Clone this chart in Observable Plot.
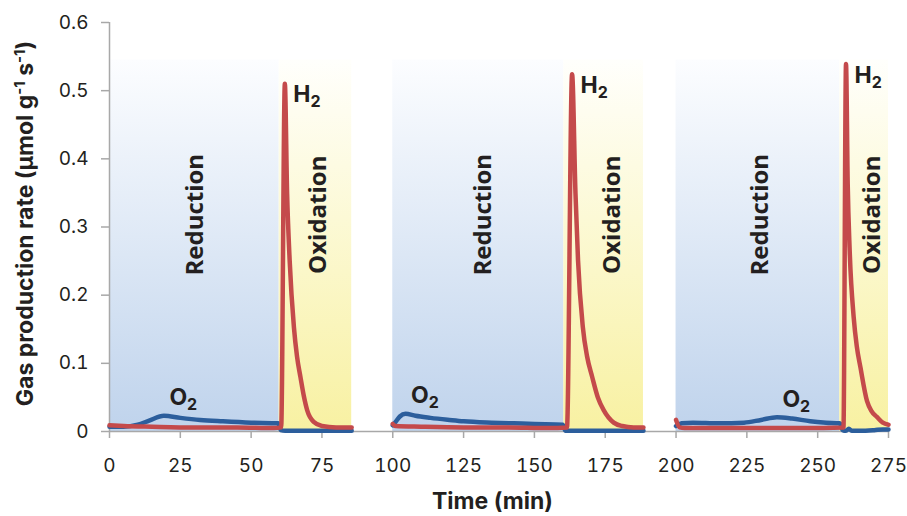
<!DOCTYPE html>
<html>
<head>
<meta charset="utf-8">
<script src="https://cdn.jsdelivr.net/npm/d3@7"></script>
<script src="https://cdn.jsdelivr.net/npm/@observablehq/plot@0.6"></script>
<style>
  html, body { margin: 0; padding: 0; background: #fff; }
  #chart svg { display: block; }
</style>
</head>
<body>
<div id="chart"></div>
<script>
// ---- data ----
const xTicks = [0, 25, 50, 75, 100, 125, 150, 175, 200, 225, 250, 275];
const yTicks = [0, 0.1, 0.2, 0.3, 0.4, 0.5, 0.6];

const reductionStart = [0, 100, 200];
const reductionEnd = [59.9, 160.4, 257.8];
const oxidationEnd = [85.5, 188.5, 275];
const phaseTop = 0.545;

const reductionLabelTime = [30.4, 132, 229.8];
const oxidationLabelTime = [73.8, 177.5, 269.3];
const phaseLabelRate = 0.318;

const h2Time = [
  [0, 5, 15, 30, 45, 58, 60.6, 61.9, 62.7, 63.6, 65.1, 66.2, 67.4, 68.6, 69.8, 72.1, 75, 80, 85.5],
  [100, 101, 110, 125, 140, 155, 161.5, 163.3, 164.5, 165.4, 167.1, 168.6, 170.4, 172.4, 174.5, 178, 181, 185, 188.5],
  [200, 201.3, 203, 215, 230, 245, 259.1, 260, 260.6, 261.3, 262.7, 263.8, 265.1, 267.4, 269, 271, 273, 275]
];
const h2Rate = [
  [0.009, 0.008, 0.007, 0.006, 0.006, 0.005, 0.006, 0.51, 0.349, 0.251, 0.153, 0.11, 0.080, 0.052, 0.031, 0.014, 0.008, 0.006, 0.006],
  [0.011, 0.008, 0.007, 0.006, 0.006, 0.005, 0.006, 0.524, 0.349, 0.251, 0.153, 0.11, 0.080, 0.05, 0.031, 0.013, 0.008, 0.006, 0.006],
  [0.017, 0.006, 0.005, 0.005, 0.005, 0.005, 0.006, 0.539, 0.363, 0.265, 0.168, 0.125, 0.094, 0.045, 0.03, 0.021, 0.013, 0.01]
];

const o2Time = [
  [0, 5, 10, 14, 19.2, 25, 32, 40, 50, 59.5, 60.5, 62, 70, 80, 85.5],
  [100, 101, 102.5, 104.5, 108, 113.3, 120, 125, 135, 142.7, 150, 160, 161, 163, 170, 180, 188.5],
  [200, 202, 206, 215, 224, 230, 235.6, 241, 247.4, 253, 257.8, 258.8, 260, 261, 262, 265, 270, 273, 275]
];
const o2Rate = [
  [0.007, 0.007, 0.010, 0.016, 0.023, 0.020, 0.017, 0.015, 0.013, 0.012, 0.002, 0.001, 0.001, 0.001, 0.001],
  [0.009, 0.014, 0.022, 0.026, 0.023, 0.020, 0.017, 0.015, 0.013, 0.012, 0.011, 0.010, 0.001, 0.001, 0.001, 0.001, 0.001],
  [0.008, 0.012, 0.013, 0.012, 0.013, 0.017, 0.021, 0.019, 0.015, 0.013, 0.012, 0.002, 0.001, 0.004, 0.001, 0.001, 0.002, 0.003, 0.003]
];

// ---- build tables ----
function rows(times, rates) {
  const out = [];
  times.forEach((ts, c) => ts.forEach((t, i) => out.push({cycle: c, t, v: rates[c][i]})));
  return out;
}
const h2Rows = rows(h2Time, h2Rate);
const o2Rows = rows(o2Time, o2Rate);
const phases = reductionStart.map((s, i) => ({r1: s, r2: reductionEnd[i], o2: oxidationEnd[i], lo: 0, hi: phaseTop}));
function peaks(times, rates) {
  return times.map((ts, c) => {
    const i = d3.maxIndex(rates[c]);
    return {t: ts[i], v: rates[c][i]};
  });
}
const h2Peaks = peaks(h2Time, h2Rate);
const o2Peaks = peaks(o2Time, o2Rate);

const ink = "#231f20";
const axisGray = "#a8a8a8";

const chart = Plot.plot({
  width: 907,
  height: 516,
  marginLeft: 109,
  marginRight: 19,
  marginTop: 22,
  marginBottom: 85,
  style: {fontFamily: "Inter, 'Liberation Sans', sans-serif", fontSize: "19px", color: ink, background: "#fff"},
  x: {domain: [0, 275]},
  y: {domain: [0, 0.6]},
  marks: [
    Plot.rect(phases, {x1: "r1", x2: "r2", y1: "lo", y2: "hi", fill: "url(#gradBlue)"}),
    Plot.rect(phases, {x1: "r2", x2: "o2", y1: "lo", y2: "hi", fill: "url(#gradYellow)"}),
    Plot.ruleX([0], {stroke: axisGray, strokeWidth: 1.5}),
    Plot.ruleY([0], {stroke: axisGray, strokeWidth: 1.5}),
    Plot.axisX({ticks: xTicks, tickSize: 7, tickPadding: 20, stroke: axisGray, fill: ink, strokeWidth: 1.5, label: null, fontSize: 19}),
    Plot.axisY({ticks: yTicks, tickSize: 8, tickPadding: 13, stroke: axisGray, fill: ink, strokeWidth: 1.5, label: null, fontSize: 19, tickFormat: d => String(d)}),
    Plot.text(reductionLabelTime, {x: d => d, y: () => phaseLabelRate, text: () => "Reduction", rotate: -90,
      fontFamily: "'Open Sans', sans-serif", fontWeight: 700, fontSize: 24, fill: ink}),
    Plot.text(oxidationLabelTime, {x: d => d, y: () => phaseLabelRate, text: () => "Oxidation", rotate: -90,
      fontFamily: "'Open Sans', sans-serif", fontWeight: 700, fontSize: 24, fill: ink}),
    Plot.line(o2Rows, {x: "t", y: "v", z: "cycle", stroke: "#2c5e9c", strokeWidth: 4.5, curve: "monotone-x",
      strokeLinejoin: "round", strokeLinecap: "round"}),
    Plot.line(h2Rows, {x: "t", y: "v", z: "cycle", stroke: "#c44a4b", strokeWidth: 4.5, curve: "monotone-x",
      strokeLinejoin: "round", strokeLinecap: "round"})
  ]
});

const svg = d3.select(chart);
const defs = svg.insert("defs", ":first-child");
function grad(id, top, bottom) {
  const g = defs.append("linearGradient").attr("id", id).attr("x1", 0).attr("y1", 0).attr("x2", 0).attr("y2", 1);
  g.append("stop").attr("offset", "0%").attr("stop-color", top);
  g.append("stop").attr("offset", "100%").attr("stop-color", bottom);
}
grad("gradBlue", "#fcfdff", "#bfd3ec");
grad("gradYellow", "#fffffc", "#f8f1a2");

const sx = chart.scale("x"), sy = chart.scale("y");
const labelFont = "Inter, 'Liberation Sans', sans-serif";

function chem(x, y, main) {
  const t = svg.append("text").attr("x", x).attr("y", y).attr("text-anchor", "start")
    .attr("font-family", labelFont).attr("font-weight", 700).attr("font-size", 23).attr("fill", ink);
  t.append("tspan").text(main);
  t.append("tspan").attr("dy", 5).attr("font-size", 16).text("2");
}
h2Peaks.forEach(p => chem(sx.apply(p.t) + 9, sy.apply(p.v) + 19, "H"));
o2Peaks.forEach(p => chem(sx.apply(p.t) + 6, sy.apply(p.v) - 10, "O"));

// axis titles
svg.append("text")
  .attr("x", (sx.range[0] + sx.range[1]) / 2 - 6).attr("y", 509)
  .attr("text-anchor", "middle")
  .attr("font-family", labelFont).attr("font-weight", 700).attr("font-size", 23).attr("fill", ink)
  .text("Time (min)");

const yt = svg.append("text")
  .attr("transform", `translate(33,${(sy.range[0] + sy.range[1]) / 2 - 3}) rotate(-90)`)
  .attr("text-anchor", "middle")
  .attr("font-family", labelFont).attr("font-weight", 700).attr("font-size", 23).attr("fill", ink);
yt.append("tspan").text("Gas production rate (\u03bcmol g");
yt.append("tspan").attr("dy", -8).attr("font-size", 15).text("-1");
yt.append("tspan").attr("dy", 8).text(" s");
yt.append("tspan").attr("dy", -8).attr("font-size", 15).text("-1");
yt.append("tspan").attr("dy", 8).text(")");

document.getElementById("chart").appendChild(chart);
</script>
</body>
</html>
